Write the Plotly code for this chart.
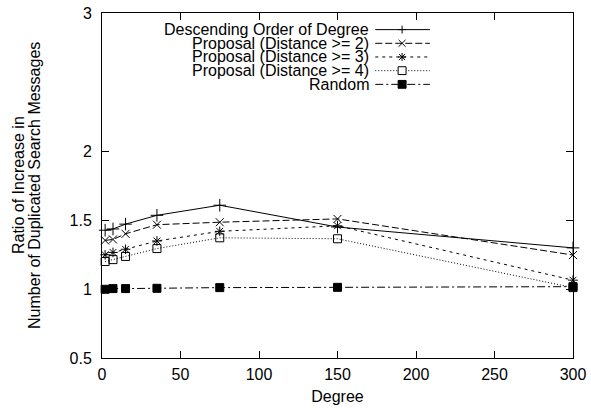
import plotly.graph_objects as go

degree = [2, 7, 15, 35, 75, 150, 300]
desc_order = [1.426, 1.435, 1.470, 1.534, 1.607, 1.449, 1.298]
prop_d2 = [1.352, 1.359, 1.400, 1.466, 1.484, 1.508, 1.246]
prop_d3 = [1.248, 1.265, 1.288, 1.348, 1.418, 1.458, 1.064]
prop_d4 = [1.199, 1.213, 1.236, 1.293, 1.371, 1.364, 1.010]
random_sel = [0.998, 1.003, 1.003, 1.005, 1.010, 1.012, 1.017]

series_names = ["Descending Order of Degree", "Proposal (Distance >= 2)",
                "Proposal (Distance >= 3)", "Proposal (Distance >= 4)", "Random"]
x_ticks = [0, 50, 100, 150, 200, 250, 300]
y_ticks = [0.5, 1, 1.5, 2, 3]
y_tick_labels = ["0.5", "1", "1.5", "2", "3"]
y_title_lines = ["Ratio of Increase in", "Number of Duplicated Search Messages"]

W, H = 591, 416
L, R, T, B = 102, 15, 5, 58
PW, PH = W - L - R, H - T - B
FONT = "Liberation Sans, Arial, Helvetica, sans-serif"

styles = [
    dict(dash="solid", symbol="cross-thin-open", size=9),
    dict(dash="7px,3px", symbol="x-thin-open", size=8),
    dict(dash="3px,4px", symbol="asterisk-open", size=8),
    dict(dash="1px,2px", symbol="square-open", size=8),
    dict(dash="8px,3px,2px,3px", symbol="square", size=8),
]
data = [desc_order, prop_d2, prop_d3, prop_d4, random_sel]

fig = go.Figure()
for name, ys, st in zip(series_names, data, styles):
    fig.add_trace(go.Scatter(
        x=degree, y=ys, name=name, mode="lines+markers", showlegend=False,
        line=dict(color="black", width=1, dash=st["dash"]),
        marker=dict(symbol=st["symbol"], size=st["size"], color="black",
                    line=dict(color="black", width=1)),
        cliponaxis=False,
    ))

def px2paper(px, py):
    return (px - L) / PW, (H - B - py) / PH

shapes = []
annotations = []
row_y = [22, 36, 50, 64, 78]
text_right = 373
line_x0, line_x1, mk_x = 377, 432, 404
for i, (name, st) in enumerate(zip(series_names, styles)):
    py = row_y[i]
    tx, ty = px2paper(text_right, py)
    annotations.append(dict(text=name, x=tx, y=ty, xref="paper", yref="paper",
                            xanchor="right", yanchor="middle", showarrow=False,
                            font=dict(family=FONT, size=16, color="black")))
    a0 = px2paper(line_x0, py)
    a1 = px2paper(line_x1, py)
    shapes.append(dict(type="line", xref="paper", yref="paper",
                       x0=a0[0], y0=a0[1], x1=a1[0], y1=a1[1],
                       line=dict(color="black", width=1, dash=st["dash"])))
    def seg(dx0, dy0, dx1, dy1):
        p0 = px2paper(mk_x + dx0, py + dy0)
        p1 = px2paper(mk_x + dx1, py + dy1)
        shapes.append(dict(type="line", xref="paper", yref="paper",
                           x0=p0[0], y0=p0[1], x1=p1[0], y1=p1[1],
                           line=dict(color="black", width=1)))
    if i == 0:
        seg(-4, 0, 4, 0); seg(0, -4, 0, 4)
    elif i == 1:
        seg(-3.5, -3.5, 3.5, 3.5); seg(-3.5, 3.5, 3.5, -3.5)
    elif i == 2:
        seg(-4, 0, 4, 0); seg(0, -4, 0, 4)
        seg(-3, -3, 3, 3); seg(-3, 3, 3, -3)
    else:
        p0 = px2paper(mk_x - 4, py - 4)
        p1 = px2paper(mk_x + 4, py + 4)
        shapes.append(dict(type="rect", xref="paper", yref="paper",
                           x0=p0[0], y0=p0[1], x1=p1[0], y1=p1[1],
                           line=dict(color="black", width=1),
                           fillcolor="black" if i == 4 else "white"))

for line_text, cx in zip(y_title_lines, [18, 34]):
    annotations.append(dict(text=line_text,
                            x=(cx - L) / PW, y=0.5, xref="paper", yref="paper",
                            xanchor="center", yanchor="middle", textangle=-90,
                            showarrow=False,
                            font=dict(family=FONT, size=16, color="black")))

fig.update_layout(
    width=W, height=H,
    margin=dict(l=L, r=R, t=T, b=B, pad=0),
    paper_bgcolor="white", plot_bgcolor="white",
    font=dict(family=FONT, size=16, color="black"),
    shapes=shapes, annotations=annotations,
    showlegend=False,
)
fig.update_xaxes(
    range=[0, 300], tickvals=x_ticks, ticks="inside", ticklen=7,
    tickcolor="black", mirror="allticks", showline=True, linecolor="black",
    linewidth=1, showgrid=False, zeroline=False,
    title=dict(text="Degree", standoff=8, font=dict(size=16)),
    tickfont=dict(size=16), ticklabelstandoff=2, ticklabeloverflow="allow",
)
fig.update_yaxes(
    range=[0.5, 3], tickvals=y_ticks, ticktext=y_tick_labels, ticks="inside",
    ticklen=7, tickcolor="black", mirror="allticks", showline=True,
    linecolor="black", linewidth=1, showgrid=False, zeroline=False,
    tickfont=dict(size=16), ticklabelstandoff=6, ticklabeloverflow="allow",
)
fig.write_html("out.html", config={"displayModeBar": False},
               post_script="document.body.style.margin='0';document.body.style.overflow='hidden';")
